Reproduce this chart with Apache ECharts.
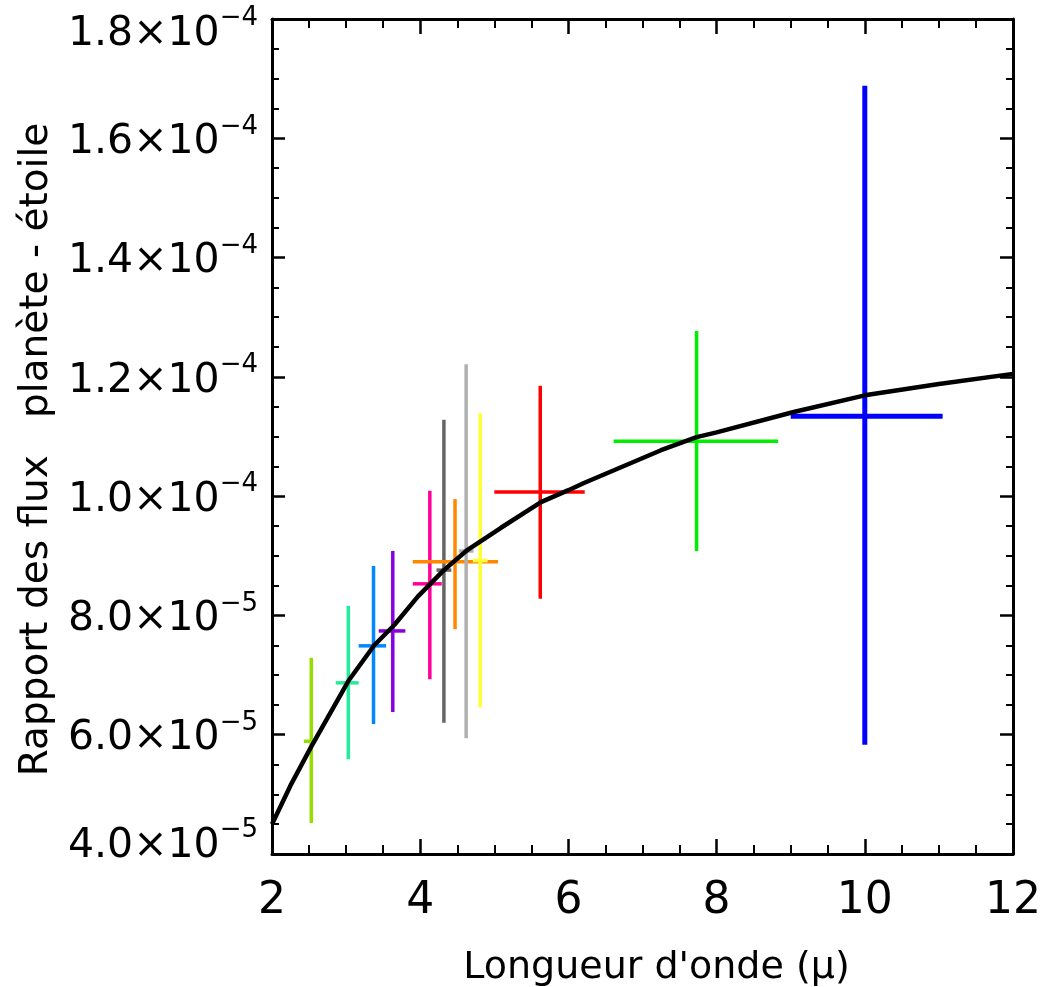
<!DOCTYPE html>
<html>
<head>
<meta charset="utf-8">
<script src="https://cdn.jsdelivr.net/npm/echarts@6/dist/echarts.min.js"></script>
<style>
  html, body { margin: 0; padding: 0; background: #fff; }
  #chart { width: 1044px; height: 987px; }
</style>
</head>
<body>
<div id="chart"></div>
<script>
// Values of the flux ratio are given in units of 1e-5
const wavelengths = [2.53, 3.03, 3.37, 3.63, 4.13, 4.32, 4.47, 4.62, 4.81, 5.62, 7.73, 10.0];
const waveLow     = [2.43, 2.86, 3.17, 3.44, 3.90, 4.22, 3.90, 4.52, 4.71, 5.00, 6.61, 9.00];
const waveHigh    = [2.57, 3.17, 3.54, 3.80, 4.29, 4.42, 5.05, 4.72, 4.91, 6.22, 8.83, 11.05];
const ratios      = [5.89, 6.87, 7.49, 7.74, 8.53, 8.76, 8.90, 9.08, 8.92, 10.07, 10.92, 11.34];
const ratioLow    = [4.52, 5.59, 6.18, 6.38, 6.93, 6.20, 7.77, 5.94, 6.46, 8.28, 9.08, 5.83];
const ratioHigh   = [7.29, 8.16, 8.83, 9.08, 10.09, 11.28, 9.95, 12.21, 11.39, 11.85, 12.77, 16.88];
const markerColors = ['#99dd00', '#22ee99', '#0088ff', '#8800dd', '#ff0099', '#666666',
                      '#ff8800', '#b0b0b0', '#ffff33', '#ff0000', '#00ee00', '#0000ff'];

const modelX = [2.0, 2.25, 2.53, 3.03, 3.38, 3.65, 3.97, 4.32, 4.64, 5.09, 5.63, 6.0, 6.21, 7.25, 7.73, 8.0, 9.04, 10.0, 11.0, 12.0];
const modelY = [4.5, 5.15, 5.8, 6.9, 7.5, 7.84, 8.32, 8.76, 9.1, 9.47, 9.9, 10.1, 10.22, 10.77, 10.99, 11.07, 11.41, 11.69, 11.88, 12.05];

const xTicks = { min: 2, max: 12, interval: 2 };
const yTicks = { min: 4, max: 18, interval: 2 };

const xTitle = "Longueur d'onde (µ)";
const yTitle = "Rapport des flux   planète - étoile";

const FONT = 'DejaVu Sans';

const crossData = wavelengths.map((w, i) => [w, ratios[i], waveLow[i], waveHigh[i], ratioLow[i], ratioHigh[i]]);
const modelData = modelX.map((x, i) => [x, modelY[i]]);

function yLabel(v) {
  let mant, exp;
  if (v >= 10 - 1e-9) { mant = (v / 10).toFixed(1); exp = '−4'; }
  else { mant = v.toFixed(1); exp = '−5'; }
  let m = 'm', e = 'e';
  if (Math.abs(v - yTicks.min) < 1e-9) { m = 'mb'; e = 'eb'; }
  else if (Math.abs(v - yTicks.max) < 1e-9) { m = 'mt'; e = 'et'; }
  return '{' + m + '|' + mant + '×10}{' + e + '|' + exp + '}';
}

const chart = echarts.init(document.getElementById('chart'), null, { renderer: 'canvas' });

const axisLineStyle = { color: '#000', width: 3 };
const mainTxt = { fontFamily: FONT, fontSize: 41, color: '#000' };
const expTxt = { fontFamily: FONT, fontSize: 26, color: '#000', verticalAlign: 'top' };

chart.setOption({
  animation: false,
  backgroundColor: '#fff',
  grid: { left: 272, right: 31, top: 19, bottom: 133, containLabel: false, outerBoundsMode: 'none' },
  xAxis: [
    {
      type: 'value', position: 'bottom',
      min: xTicks.min, max: xTicks.max, interval: xTicks.interval,
      axisLine: { show: true, lineStyle: axisLineStyle },
      axisTick: { show: true, inside: true, length: 15, lineStyle: { color: '#000', width: 2.5 } },
      minorTick: { show: true, splitNumber: 4, length: 9, lineStyle: { color: '#000', width: 2 } },
      splitLine: { show: false },
      axisLabel: { color: '#000', fontFamily: FONT, fontSize: 44, margin: 26 },
      name: xTitle, nameLocation: 'middle', nameGap: 95,
      nameTextStyle: { color: '#000', fontFamily: FONT, fontSize: 38, padding: [0, 0, 0, 28] }
    },
    {
      type: 'value', position: 'top',
      min: xTicks.min, max: xTicks.max, interval: xTicks.interval,
      axisLine: { show: true, lineStyle: axisLineStyle },
      axisTick: { show: true, inside: true, length: 15, lineStyle: { color: '#000', width: 2.5 } },
      minorTick: { show: true, splitNumber: 4, length: 9, lineStyle: { color: '#000', width: 2 } },
      splitLine: { show: false },
      axisLabel: { show: false }
    }
  ],
  yAxis: [
    {
      type: 'value', position: 'left',
      min: yTicks.min, max: yTicks.max, interval: yTicks.interval,
      axisLine: { show: true, lineStyle: axisLineStyle },
      axisTick: { show: true, inside: true, length: 13, lineStyle: { color: '#000', width: 2.5 } },
      minorTick: { show: true, splitNumber: 4, length: 7, lineStyle: { color: '#000', width: 2 } },
      splitLine: { show: false },
      axisLabel: {
        color: '#000', margin: 14,
        formatter: yLabel,
        rich: {
          m: Object.assign({}, mainTxt, { padding: [8, 0, 0, 0] }),
          e: Object.assign({}, expTxt),
          mb: Object.assign({}, mainTxt, { padding: [8, 0, 24, 0] }),
          eb: Object.assign({}, expTxt),
          mt: Object.assign({}, mainTxt, { padding: [30, 0, 0, 0] }),
          et: Object.assign({}, expTxt, { padding: [22, 0, 0, 0] })
        }
      },
      name: yTitle, nameLocation: 'middle', nameGap: 216,
      nameTextStyle: { color: '#000', fontFamily: FONT, fontSize: 39, padding: [0, 26, 0, 0] }
    },
    {
      type: 'value', position: 'right',
      min: yTicks.min, max: yTicks.max, interval: yTicks.interval,
      axisLine: { show: true, lineStyle: axisLineStyle },
      axisTick: { show: true, inside: true, length: 13, lineStyle: { color: '#000', width: 2.5 } },
      minorTick: { show: true, splitNumber: 4, length: 7, lineStyle: { color: '#000', width: 2 } },
      splitLine: { show: false },
      axisLabel: { show: false }
    }
  ],
  series: [
    {
      type: 'custom',
      xAxisIndex: 0, yAxisIndex: 0,
      z: 2,
      data: crossData,
      encode: { x: [0, 2, 3], y: [1, 4, 5] },
      renderItem: function (params, api) {
        const i = params.dataIndex;
        const xl = api.coord([api.value(2), api.value(1)]);
        const xh = api.coord([api.value(3), api.value(1)]);
        const yl = api.coord([api.value(0), api.value(4)]);
        const yh = api.coord([api.value(0), api.value(5)]);
        const w = markerColors[i] === '#0000ff' ? 5 : 3.5;
        const style = { stroke: markerColors[i], lineWidth: w, fill: null };
        return {
          type: 'group',
          children: [
            { type: 'line', shape: { x1: yl[0], y1: yl[1], x2: yh[0], y2: yh[1] }, style: style },
            { type: 'line', shape: { x1: xl[0], y1: xl[1], x2: xh[0], y2: xh[1] }, style: style }
          ]
        };
      }
    },
    {
      type: 'line',
      xAxisIndex: 0, yAxisIndex: 0,
      z: 3,
      data: modelData,
      showSymbol: false,
      symbol: 'none',
      smooth: false,
      lineStyle: { color: '#000', width: 4.5 }
    }
  ]
});
</script>
</body>
</html>
